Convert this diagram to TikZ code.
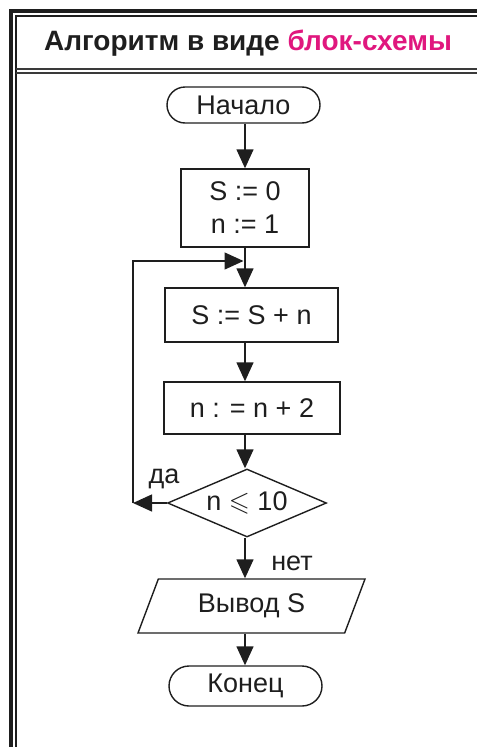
\documentclass[tikz,border=0pt]{standalone}
\usepackage{fontspec}
\setmainfont{Liberation Sans}
\usepackage{amssymb}
\usetikzlibrary{arrows.meta,shapes.geometric,shapes.misc}
\definecolor{ink}{HTML}{1E1E1E}
\definecolor{rule}{HTML}{3A3A3A}
\definecolor{accent}{HTML}{E0177E}

\begin{document}
\begin{tikzpicture}[x=1pt,y=-1pt,
  every node/.style={font=\fontsize{27}{33}\selectfont, text=ink},
  flow/.style={draw=ink, line width=1.4pt},
  terminal/.style={flow, rounded rectangle, inner sep=0pt},
  procbox/.style={flow, rectangle, inner sep=0pt, align=center},
  decision/.style={flow, diamond, inner sep=0pt, aspect=2.34},
  iobox/.style={flow, trapezium, trapezium left angle=50, trapezium right angle=130,
                trapezium stretches body, inner sep=0pt},
  link/.style={draw=ink, line width=1.4pt},
  arr/.style={link, -{Triangle[length=19pt,width=17pt]}},
]
\useasboundingbox (0,0) rectangle (477,747);

% page frame: heavy outer rule and thin inner rule
\draw[ink, line width=3.4pt] (11,747) -- (11,11) -- (477,11);
\draw[ink, line width=1.5pt] (16,747) -- (16,16) -- (477,16);
% header separator
\draw[rule, line width=2pt] (16,68.5) -- (477,68.5);
\draw[rule, line width=1.3pt] (16,73) -- (477,73);

\node[font=\bfseries\fontsize{28}{30}\selectfont] (title) at (248,43)
  {Алгоритм в виде \textcolor{accent}{блок-схемы}};

% flowchart blocks
\node[terminal, minimum width=153pt, minimum height=36pt] (start) at (243.5,105) {Начало};
\node[procbox, minimum width=128pt, minimum height=78pt] (init) at (245,208) {S := 0\\ n := 1};
\node[procbox, minimum width=173pt, minimum height=54pt] (sum) at (251.5,315) {S := S + n};
\node[procbox, minimum width=176pt, minimum height=52pt] (step2) at (252,408) {n : = n + 2};
\node[decision, minimum width=159pt, minimum height=68pt] (cond) at (247,503) {n $\leqslant$ 10};
\node[iobox, minimum width=227pt, minimum height=54pt] (out) at (251.5,606) {Вывод S};
\node[terminal, minimum width=153pt, minimum height=40pt] (stop) at (245.5,686) {Конец};

\node (yes) at (164,479) {да};
\node (no) at (292,563) {нет};

% main axis and loop points
\coordinate (spine) at (245,0);
\coordinate (join) at (245,261);
\coordinate (loopL) at (133,503);

% connectors
\draw[arr] (start.south -| spine) -- (init.north -| spine);
\draw[link] (init.south -| spine) -- (join);
\draw[arr] (join) -- (sum.north -| spine);
\draw[arr] (sum.south -| spine) -- (step2.north -| spine);
\draw[arr] (step2.south -| spine) -- (cond.north -| spine);
\draw[arr] (cond.west) -- (loopL);
\draw[arr, shorten >=1.5pt] (loopL) |- (join);
\draw[arr] (cond.south -| spine) -- (out.north -| spine);
\draw[arr] (out.south -| spine) -- (stop.north -| spine);
\end{tikzpicture}
\end{document}
